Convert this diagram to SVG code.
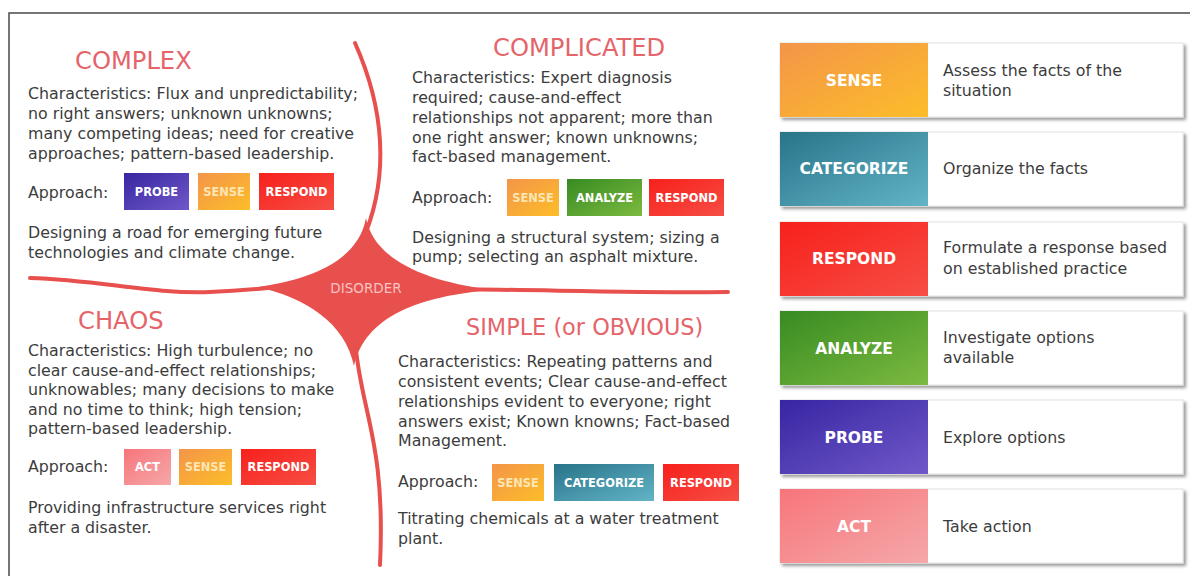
<svg xmlns="http://www.w3.org/2000/svg" width="1190" height="576" viewBox="0 0 1190 576">
<defs>
<linearGradient id="gSense" x1="0" y1="0" x2="1" y2="1"><stop offset="0" stop-color="#f39549"/><stop offset="1" stop-color="#fdbd29"/></linearGradient>
<linearGradient id="gCat" x1="0" y1="0" x2="1" y2="1"><stop offset="0" stop-color="#287489"/><stop offset="1" stop-color="#63b4c7"/></linearGradient>
<linearGradient id="gResp" x1="0" y1="0" x2="1" y2="1"><stop offset="0" stop-color="#f7201b"/><stop offset="1" stop-color="#f64e45"/></linearGradient>
<linearGradient id="gAna" x1="0" y1="0" x2="1" y2="1"><stop offset="0" stop-color="#378b22"/><stop offset="1" stop-color="#7cba40"/></linearGradient>
<linearGradient id="gProbe" x1="0" y1="0" x2="1" y2="1"><stop offset="0" stop-color="#3726a2"/><stop offset="1" stop-color="#7058c9"/></linearGradient>
<linearGradient id="gAct" x1="0" y1="0" x2="1" y2="1"><stop offset="0" stop-color="#f7757b"/><stop offset="1" stop-color="#f5a8a9"/></linearGradient>
<filter id="shadow" x="-5%" y="-10%" width="112%" height="125%"><feDropShadow dx="2.5" dy="2.5" stdDeviation="1.5" flood-color="#000" flood-opacity="0.4"/></filter>
</defs>
<style>
.body{font-family:"DejaVu Sans","Liberation Sans",sans-serif;font-size:15.8px;fill:#3c3c3c}
.title{font-family:"DejaVu Sans","Liberation Sans",sans-serif;font-size:24.2px;fill:#e5646a}
.title.small{font-size:22.4px}
.btn{font-family:"DejaVu Sans","Liberation Sans",sans-serif;font-size:11.4px;font-weight:bold;fill:#ffffff;text-anchor:middle}
.btnS{fill:#fde6b4}
.lab{font-family:"DejaVu Sans","Liberation Sans",sans-serif;font-size:15.5px;font-weight:bold;fill:#ffffff;text-anchor:middle}
.desc{font-family:"DejaVu Sans","Liberation Sans",sans-serif;font-size:15.8px;fill:#3c3c3c}
.arm{fill:none;stroke:#e8504e;stroke-width:4;stroke-linecap:round}
.card{fill:#ffffff;stroke:#e2e2e2;stroke-width:1}
</style>
<rect x="0" y="0" width="1190" height="576" fill="#ffffff"/>
<g id="frame"><path d="M9,576 L9,13 L1190,13" fill="none" stroke="#4a4a4a" stroke-width="1.5"/></g>

<g id="connectors">
<path class="arm" d="M355,43 C385,110 388,175 366,232"/>
<path class="arm" d="M355,340 C360,410 386,440 380,565"/>
<path class="arm" d="M30,278 C100,280 150,294 210,292 S280,284 310,287"/>
<path class="arm" d="M440,289 C550,290 650,293 728,292"/>
<path d="M366,218 C373,255 415,280 492,290 C420,296 365,316 354,366 C345,322 305,298 258,287 C308,280 358,262 366,218 Z" fill="#e8504e"/>
</g>

<g id="disorder"><text x="366" y="293" font-family="DejaVu Sans, Liberation Sans, sans-serif" font-size="13.5" fill="#f8c3c1" text-anchor="middle">DISORDER</text></g>

<g id="complex">
<text class="title" x="75" y="69">COMPLEX</text>
<text class="body" x="28" y="99">Characteristics: Flux and unpredictability;</text>
<text class="body" x="28" y="119">no right answers; unknown unknowns;</text>
<text class="body" x="28" y="139">many competing ideas; need for creative</text>
<text class="body" x="28" y="159">approaches; pattern-based leadership.</text>
<text class="body" x="28" y="198">Approach:</text>
<rect x="124" y="173" width="65" height="37" fill="url(#gProbe)"/>
<text class="btn" x="156.5" y="196">PROBE</text>
<rect x="198" y="173" width="52" height="37" fill="url(#gSense)"/>
<text class="btn btnS" x="224" y="196">SENSE</text>
<rect x="259" y="173" width="75" height="37" fill="url(#gResp)"/>
<text class="btn" x="296.5" y="196">RESPOND</text>
<text class="body" x="28" y="238">Designing a road for emerging future</text>
<text class="body" x="28" y="258">technologies and climate change.</text>
</g>

<g id="complicated">
<text class="title" x="493" y="56">COMPLICATED</text>
<text class="body" x="412" y="83">Characteristics: Expert diagnosis</text>
<text class="body" x="412" y="103">required; cause-and-effect</text>
<text class="body" x="412" y="123">relationships not apparent; more than</text>
<text class="body" x="412" y="143">one right answer; known unknowns;</text>
<text class="body" x="412" y="162">fact-based management.</text>
<text class="body" x="412" y="203">Approach:</text>
<rect x="507" y="179" width="52" height="37" fill="url(#gSense)"/>
<text class="btn btnS" x="533" y="201.5">SENSE</text>
<rect x="567" y="179" width="75" height="37" fill="url(#gAna)"/>
<text class="btn" x="604.5" y="201.5">ANALYZE</text>
<rect x="649" y="179" width="75" height="37" fill="url(#gResp)"/>
<text class="btn" x="686.5" y="201.5">RESPOND</text>
<text class="body" x="412" y="243">Designing a structural system; sizing a</text>
<text class="body" x="412" y="262">pump; selecting an asphalt mixture.</text>
</g>

<g id="chaos">
<text class="title" x="78" y="329">CHAOS</text>
<text class="body" x="28" y="356">Characteristics: High turbulence; no</text>
<text class="body" x="28" y="375.5">clear cause-and-effect relationships;</text>
<text class="body" x="28" y="395">unknowables; many decisions to make</text>
<text class="body" x="28" y="414.5">and no time to think; high tension;</text>
<text class="body" x="28" y="434">pattern-based leadership.</text>
<text class="body" x="28" y="472">Approach:</text>
<rect x="124" y="449" width="47" height="36" fill="url(#gAct)"/>
<text class="btn" x="147.5" y="471">ACT</text>
<rect x="179" y="449" width="53" height="36" fill="url(#gSense)"/>
<text class="btn btnS" x="205.5" y="471">SENSE</text>
<rect x="241" y="449" width="75" height="36" fill="url(#gResp)"/>
<text class="btn" x="278.5" y="471">RESPOND</text>
<text class="body" x="28" y="513">Providing infrastructure services right</text>
<text class="body" x="28" y="533">after a disaster.</text>
</g>

<g id="simple">
<text class="title small" x="466" y="335">SIMPLE (or OBVIOUS)</text>
<text class="body" x="398" y="367">Characteristics: Repeating patterns and</text>
<text class="body" x="398" y="387">consistent events; Clear cause-and-effect</text>
<text class="body" x="398" y="407">relationships evident to everyone; right</text>
<text class="body" x="398" y="427">answers exist; Known knowns; Fact-based</text>
<text class="body" x="398" y="446">Management.</text>
<text class="body" x="398" y="487">Approach:</text>
<rect x="492" y="464" width="52" height="37" fill="url(#gSense)"/>
<text class="btn btnS" x="518" y="486.5">SENSE</text>
<rect x="554" y="464" width="100" height="37" fill="url(#gCat)"/>
<text class="btn" x="604" y="486.5">CATEGORIZE</text>
<rect x="663" y="464" width="76" height="37" fill="url(#gResp)"/>
<text class="btn" x="701" y="486.5">RESPOND</text>
<text class="body" x="398" y="524">Titrating chemicals at a water treatment</text>
<text class="body" x="398" y="544">plant.</text>
</g>

<g id="legend-sense">
<rect class="card" x="780" y="43" width="403" height="74" filter="url(#shadow)"/>
<rect x="780" y="43" width="148" height="74" fill="url(#gSense)"/>
<text class="lab" x="854" y="86">SENSE</text>
<text class="desc" x="943" y="76">Assess the facts of the</text>
<text class="desc" x="943" y="96">situation</text>
</g>
<g id="legend-categorize">
<rect class="card" x="780" y="132" width="403" height="74" filter="url(#shadow)"/>
<rect x="780" y="132" width="148" height="74" fill="url(#gCat)"/>
<text class="lab" x="854" y="174">CATEGORIZE</text>
<text class="desc" x="943" y="174">Organize the facts</text>
</g>
<g id="legend-respond">
<rect class="card" x="780" y="222" width="403" height="74" filter="url(#shadow)"/>
<rect x="780" y="222" width="148" height="74" fill="url(#gResp)"/>
<text class="lab" x="854" y="264">RESPOND</text>
<text class="desc" x="943" y="253">Formulate a response based</text>
<text class="desc" x="943" y="274">on established practice</text>
</g>
<g id="legend-analyze">
<rect class="card" x="780" y="311" width="403" height="74" filter="url(#shadow)"/>
<rect x="780" y="311" width="148" height="74" fill="url(#gAna)"/>
<text class="lab" x="854" y="354">ANALYZE</text>
<text class="desc" x="943" y="343">Investigate options</text>
<text class="desc" x="943" y="363">available</text>
</g>
<g id="legend-probe">
<rect class="card" x="780" y="400" width="403" height="74" filter="url(#shadow)"/>
<rect x="780" y="400" width="148" height="74" fill="url(#gProbe)"/>
<text class="lab" x="854" y="443">PROBE</text>
<text class="desc" x="943" y="443">Explore options</text>
</g>
<g id="legend-act">
<rect class="card" x="780" y="489" width="403" height="74" filter="url(#shadow)"/>
<rect x="780" y="489" width="148" height="74" fill="url(#gAct)"/>
<text class="lab" x="854" y="532">ACT</text>
<text class="desc" x="943" y="532">Take action</text>
</g>
</svg>
